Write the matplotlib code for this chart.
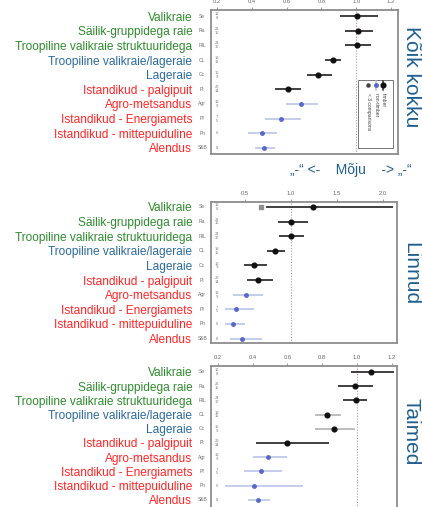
import matplotlib
matplotlib.use("Agg")
import matplotlib.pyplot as plt
from matplotlib.patches import Rectangle
from matplotlib.lines import Line2D

plt.rcParams['font.family'] = ['Liberation Sans', 'DejaVu Sans']

categories = ["Valikraie", "Säilik-gruppidega raie", "Troopiline valikraie struktuuridega",
              "Troopiline valikraie/lageraie", "Lageraie", "Istandikud - palgipuit",
              "Agro-metsandus", "Istandikud - Energiamets", "Istandikud - mittepuiduline", "Alendus"]
category_group = ["g", "g", "g", "b", "b", "r", "r", "r", "r", "r"]
abbrev = ["Se", "Ra", "RIL", "CL", "Cc", "Pt", "Agr", "Pf", "Pn", "S&B"]
counts = ["12\n8", "21\n15", "24\n17", "18\n11", "16\n9", "22\n14", "13\n9", "7\n5", "6", "8"]
timber = [1, 1, 1, 1, 1, 1, 0, 0, 0, 0]

panel_titles = ["Kõik kokku", "Linnud", "Taimed"]

all_mean = [1.005, 1.01, 1.005, 0.865, 0.78, 0.605, 0.68, 0.57, 0.46, 0.47]
all_lo = [0.907, 0.935, 0.935, 0.82, 0.715, 0.535, 0.595, 0.475, 0.38, 0.42]
all_hi = [1.125, 1.095, 1.085, 0.915, 0.86, 0.685, 0.78, 0.685, 0.545, 0.535]
all_ticks = [0.2, 0.4, 0.6, 0.8, 1.0, 1.2]

bird_mean = [1.24, 1.0, 1.0, 0.83, 0.60, 0.64, 0.51, 0.40, 0.37, 0.47]
bird_lo = [0.73, 0.86, 0.87, 0.74, 0.49, 0.52, 0.37, 0.28, 0.28, 0.34]
bird_hi = [2.11, 1.18, 1.14, 0.93, 0.74, 0.80, 0.69, 0.60, 0.50, 0.68]
bird_ticks = [0.5, 1.0, 1.5, 2.0]

plant_mean = [1.08, 0.99, 0.995, 0.83, 0.87, 0.595, 0.49, 0.45, 0.41, 0.43]
plant_lo = [0.965, 0.89, 0.92, 0.757, 0.757, 0.42, 0.40, 0.35, 0.24, 0.37]
plant_hi = [1.21, 1.09, 1.06, 0.906, 0.99, 0.84, 0.60, 0.57, 0.69, 0.50]
plant_light_ci = [0, 0, 0, 1, 1, 0, 0, 0, 0, 0]
plant_ticks = [0.2, 0.4, 0.6, 0.8, 1.0, 1.2]

W, H = 422, 507
fig = plt.figure(figsize=(W / 100, H / 100), dpi=100)

def frac(x0, y0, x1, y1):
    return [x0 / W, 1 - y1 / H, (x1 - x0) / W, (y1 - y0) / H]

group_colors = {"g": "#2e8b2e", "b": "#2b6a9c", "r": "#ff2626"}
title_color = "#1f5f90"

panels = [
    dict(rect=frac(211, 10, 398, 154), mean=all_mean, lo=all_lo, hi=all_hi, ticks=all_ticks,
         xlim=(0.165, 1.24), ylim=(10.41, 0.59), light=[0] * 10, title_y=77),
    dict(rect=frac(211, 202, 397, 343), mean=bird_mean, lo=bird_lo, hi=bird_hi, ticks=bird_ticks,
         xlim=(0.13, 2.15), ylim=(10.3, 0.66), light=[0] * 10, title_y=274),
    dict(rect=frac(211, 366, 397, 512), mean=plant_mean, lo=plant_lo, hi=plant_hi, ticks=plant_ticks,
         xlim=(0.16, 1.23), ylim=(10.85, 0.59), light=plant_light_ci, title_y=432),
]

rows = list(range(1, len(categories) + 1))

for pi, p in enumerate(panels):
    ax = fig.add_axes(p["rect"])
    ax.set_xlim(*p["xlim"])
    ax.set_ylim(*p["ylim"])
    ax.axvline(1.0, color="#c49090", lw=0.8, ls=(0, (1, 1.5)), zorder=1)
    for i, r in enumerate(rows):
        if timber[i]:
            lc = "#b8b8b8" if p["light"][i] else "#303030"
            ax.plot([p["lo"][i], p["hi"][i]], [r, r], color=lc, lw=1.3, zorder=2,
                    solid_capstyle="butt")
            ax.plot(p["mean"][i], r, "o", color="#101010", ms=3.4, zorder=3)
        else:
            ax.plot([p["lo"][i], p["hi"][i]], [r, r], color="#b4c0e8", lw=1.1, zorder=2,
                    solid_capstyle="butt")
            ax.plot(p["mean"][i], r, "o", color="#5868c8", ms=2.5, zorder=3)
        ax.text(-0.047, r, abbrev[i], transform=ax.get_yaxis_transform(), fontsize=3.6,
                color="#707070", ha="center", va="center")
        ax.text(0.032, r, counts[i], transform=ax.get_yaxis_transform(), fontsize=3.0,
                color="#808080", ha="center", va="center", linespacing=0.9)
    if pi == 1:
        ax.plot(0.67, 1, "s", color="#909090", ms=2.2, zorder=3)
    ax.xaxis.tick_top()
    ax.set_xticks(p["ticks"])
    ax.set_xticklabels([f"{t:.1f}" for t in p["ticks"]])
    ax.tick_params(axis="x", which="both", direction="out", length=2.5, width=0.6,
                   colors="#888888", labelsize=4.2, labelcolor="#666666", pad=1.5)
    ax.set_yticks(rows)
    ax.set_yticklabels(categories)
    ax.tick_params(axis="y", length=0, pad=13.5, labelsize=8.6)
    for lbl, g in zip(ax.get_yticklabels(), category_group):
        lbl.set_color(group_colors[g])
    for s in ax.spines.values():
        s.set_color("#8c8c8c")
        s.set_linewidth(1.3)
    fig.text(411 / W, 1 - p["title_y"] / H, panel_titles[pi], rotation=-90, ha="center",
             va="center", fontsize=15, color=title_color)

# rotated legend in first panel
def fx(x):
    return x / W

def fy(y):
    return 1 - y / H

fig.patches.append(Rectangle((fx(358), fy(148)), (393 - 358) / W, (148 - 80) / H,
                             transform=fig.transFigure, fill=True, facecolor="white",
                             edgecolor="#606060", lw=0.6, zorder=5))
leg_items = [("timber", 383, "#101010", "#303030", 3.4, True),
             ("non-timber", 376, "#5868c8", "#b4c0e8", 2.5, True),
             ("< 3 comparisons", 368, "#404040", None, 2.2, False)]
for label, x, mc, lc, ms, has_line in leg_items:
    if has_line:
        fig.lines.append(Line2D([fx(x), fx(x)], [fy(80.5), fy(90)], transform=fig.transFigure,
                                color=lc, lw=1.1, zorder=6))
    fig.lines.append(Line2D([fx(x)], [fy(85)], marker="o", ms=ms, color=mc,
                            transform=fig.transFigure, zorder=7, ls="none"))
    fig.text(fx(x), fy(93), label, rotation=-90, ha="center", va="top", fontsize=3.6,
             color="#404040", zorder=8)

fig.text(290 / W, 1 - 170 / H, "„-“ <-    Mõju    -> „-“", ha="left", va="center",
         fontsize=10, color=title_color)

fig.savefig("out.png", dpi=100)
